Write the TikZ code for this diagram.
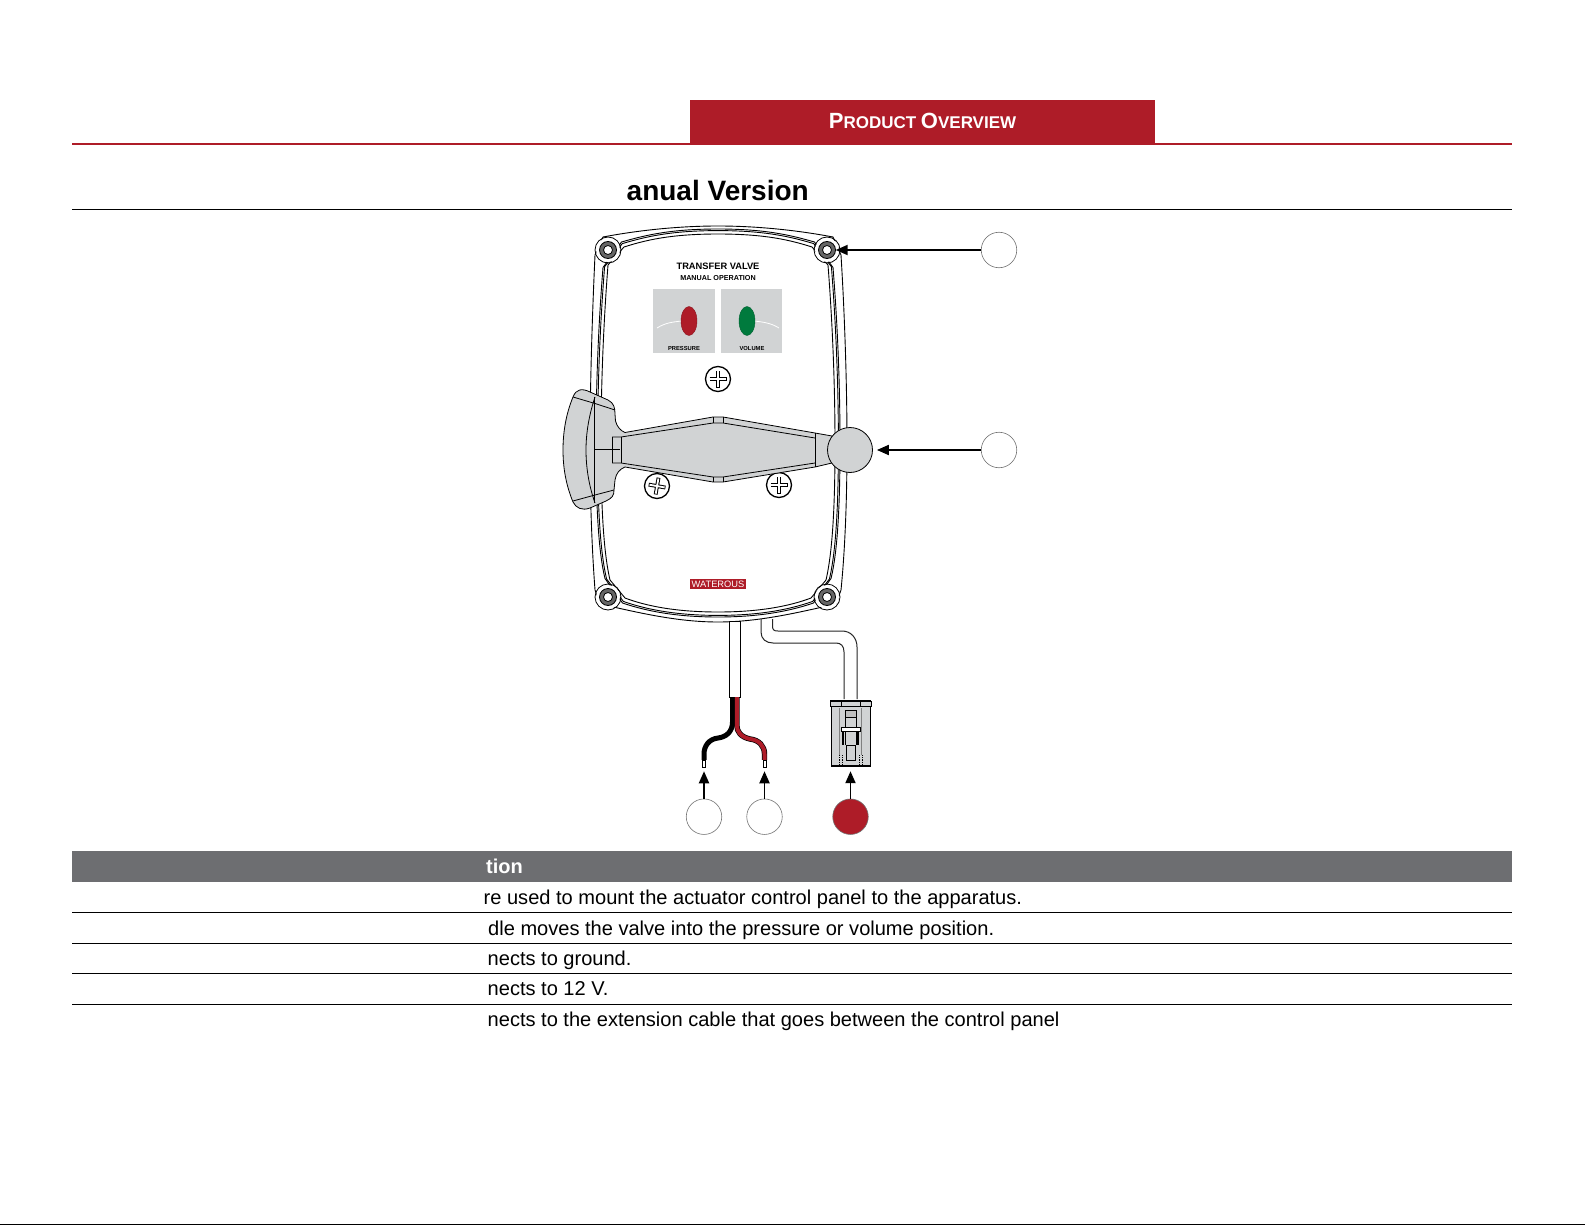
\documentclass[tikz,border=0pt]{standalone}
\usepackage{fontspec}
\setmainfont{Liberation Sans}
\usetikzlibrary{arrows.meta}
\definecolor{wred}{HTML}{AE1C28}
\definecolor{wgray}{HTML}{D1D3D4}
\definecolor{wdark}{HTML}{6D6E71}
\definecolor{wgreen}{HTML}{007A3D}
\newcommand{\fsz}[1]{\fontsize{#1}{#1}\selectfont}
\newcommand{\rimline}[1]{%
 \pgfmathsetmacro{\kk}{8-#1}%
 \draw[rimstyle] (718,226+#1)
  .. controls (765,226+#1) and (790,232+#1) .. ({812+\kk*.5},{247-\kk})
  -- ({828+\kk},{265+\kk*.5})
  .. controls ({833+\kk},330) and ({835+\kk},390) .. ({835+\kk},445)
  .. controls ({835+\kk},500) and ({833+\kk},550) .. ({826+\kk},{580-\kk*.3})
  -- ({811+\kk*.5},{598+\kk})
  .. controls (790,{606+\kk}) and (760,{612+\kk}) .. (718,{612+\kk})
  .. controls (676,{612+\kk}) and (646,{606+\kk}) .. ({625-\kk*.5},{598+\kk})
  -- ({610-\kk},{580-\kk*.3})
  .. controls ({603-\kk},550) and ({601-\kk},500) .. ({601-\kk},445)
  .. controls ({601-\kk},390) and ({603-\kk},330) .. ({608-\kk},{265+\kk*.5})
  -- ({624-\kk*.5},{247-\kk})
  .. controls (646,232+#1) and (671,226+#1) .. cycle;}
\tikzset{
 rimstyle/.style={draw=black,line width=.9pt},
 callout/.style={circle,draw=black!55,line width=.6pt,fill=white,minimum size=35.5pt,inner sep=0pt},
 pointer/.style={-{Triangle[length=12pt,width=10pt]},line width=1.9pt},
 rowrule/.style={line width=.8pt},
 rowtext/.style={anchor=base west,inner sep=0pt,font=\fsz{20.05}},
 bolt/.style={circle,draw=black,line width=.8pt,fill=white,minimum size=9pt,inner sep=0pt},
 screwhead/.style={circle,draw=black,line width=1.3pt,fill=white,minimum size=25pt,inner sep=0pt},
 handleline/.style={draw=black,line width=.8pt,line join=round},
 tiny label/.style={inner sep=0pt,font=\bfseries\fsz{5.8}},
}
\newcommand{\boltat}[2]{%
 \fill[white] (#2) circle (12pt);
 \draw[line width=.8pt] (#2) circle (13pt);
 \filldraw[fill=black!60,draw=black,line width=.8pt] (#2) circle (8.5pt);
 \node[bolt] (#1) at (#2) {};}
\newcommand{\screwat}[3]{%
 \node[screwhead] (#1) at (#2) {};
 \begin{scope}[rotate around={#3:(#2)}]
  \draw[line width=3.8pt,black] ([xshift=-8.5pt]#1.center) -- ([xshift=8.5pt]#1.center)
     ([yshift=-8.5pt]#1.center) -- ([yshift=8.5pt]#1.center);
  \draw[line width=1.8pt,white] ([xshift=-7.7pt]#1.center) -- ([xshift=7.7pt]#1.center)
     ([yshift=-7.7pt]#1.center) -- ([yshift=7.7pt]#1.center);
 \end{scope}}
\begin{document}
\begin{tikzpicture}[x=1pt,y=-1pt]
\useasboundingbox (0,0) rectangle (1585,1225);
\fill[white] (0,0) rectangle (1585,1225);
% header
\node[fill=wred,minimum width=465pt,minimum height=44pt,inner sep=0pt] (hdrbar) at (922.5,122) {};
\node[text=white,inner sep=0pt,font=\bfseries] (hdrtext) at (922.5,121) {\fsz{22}P\fsz{17}RODUCT \fsz{22}O\fsz{17}VERVIEW};
\coordinate (ruleL) at (72,144); \coordinate (ruleR) at (1512,144);
\draw[wred,line width=1.6pt] (ruleL)--(ruleR);
\node[anchor=base west,inner sep=0pt,font=\bfseries\fsz{28}] (title) at (626.5,200.5) {anual Version};
\coordinate (titleL) at (72,209.5); \coordinate (titleR) at (1512,209.5);
\draw[line width=.8pt] (titleL)--(titleR);
% panel
\draw[rimstyle,fill=white] (603,237)
  .. controls (640,230) and (680,226) .. (718,226)
  .. controls (756,226) and (796,230) .. (833,237)
  -- (841,255)
  .. controls (845,320) and (847,390) .. (847,445)
  .. controls (847,500) and (845,550) .. (841,590)
  -- (836,604)
  .. controls (800,612) and (760,622) .. (718,622)
  .. controls (676,622) and (636,612) .. (600,604)
  -- (595,590)
  .. controls (592,550) and (590,500) .. (590,445)
  .. controls (590,390) and (592,320) .. (595,255) -- cycle;
\rimline{3}\rimline{4.6}\rimline{8}
\boltat{boltA}{608,250}\boltat{boltB}{827,250}\boltat{boltC}{608,597}\boltat{boltD}{827,597}
% labels and gauges
\node[inner sep=0pt,font=\bfseries\fsz{9.3}] (ttl1) at (718,266.5) {TRANSFER VALVE};
\node[inner sep=0pt,font=\bfseries\fsz{7.2}] (ttl2) at (718,278) {MANUAL OPERATION};
\fill[wgray] (653,289) rectangle (715,353);
\fill[wgray] (721,289) rectangle (782,353);
\draw[white,line width=.8pt] (657,328) .. controls (665,323) and (672,322) .. (682,321);
\draw[white,line width=.8pt] (754,321) .. controls (763,322) and (771,323) .. (779,328);
\filldraw[fill=wred,draw=wred!80!black,line width=.4pt] (689,321) ellipse (8pt and 14.5pt);
\filldraw[fill=wgreen,draw=wgreen!80!black,line width=.4pt] (747,321) ellipse (8pt and 14.5pt);
\node[tiny label] (lblP) at (684,349) {PRESSURE};
\node[tiny label] (lblV) at (752,349) {VOLUME};
\screwat{screwA}{718,379}{0}
\screwat{screwB}{657,486}{-10}
\screwat{screwC}{779,485}{0}
\node[fill=wred,text=white,inner sep=0pt,minimum width=56pt,minimum height=9.5pt,font=\fsz{9.3}] (brand) at (718,584) {WATEROUS};
% handle
\filldraw[handleline,fill=wgray] (573,397)
  .. controls (576,389) and (582,388) .. (590,392)
  -- (608,400) .. controls (614,403) and (615,408) .. (615,414)
  -- (615.5,421) .. controls (617,427) and (621,431) .. (625,432.5)
  -- (713,417) -- (723,417) -- (815,433) -- (832,436) -- (832,463) -- (815,467)
  -- (723,482) -- (713,482) -- (625,467)
  .. controls (620,469) and (616,473) .. (615,480)
  -- (614,490) .. controls (614,496) and (612,498) .. (606,501)
  -- (590,508) .. controls (582,511) and (576,508) .. (573,502)
  .. controls (566,485) and (563,468) .. (563,450)
  .. controls (563,432) and (566,414) .. (573,397) -- cycle;
\draw[handleline] (573,397) -- (595,403.5) -- (615,410);
\draw[handleline] (573,501) -- (595,495) -- (614,490);
\draw[handleline] (595,397) .. controls (589,415) and (586,433) .. (586,450) .. controls (586,468) and (589,486) .. (595,503);
\draw[handleline] (594.5,397) -- (594.5,503);
\draw[handleline] (594.5,449.5) -- (620,449.5);
\draw[handleline] (612,437) -- (621,437) -- (713,423) -- (723,423) -- (815,438);
\draw[handleline] (612,463) -- (621,463) -- (713,477) -- (723,477) -- (815,463);
\draw[handleline] (612,437) -- (612,463) (621,437) -- (621,463);
\draw[handleline] (713,417) -- (713,423) (723,417) -- (723,423) (713,477) -- (713,482) (723,477) -- (723,482);
\draw[handleline] (815,433) -- (815,467);
\node[circle,draw=black,line width=.8pt,fill=wgray,minimum size=45pt,inner sep=0pt] (ball) at (850,450) {};
% cables
\draw[line width=1pt,fill=white] (729,621.5) rectangle (740,697);
\draw[line width=1pt,draw=black!85] (761,619) -- (761,632) .. controls (761,639) and (766,643) .. (773,643) -- (836,643) .. controls (841,643) and (844,646) .. (844,652) -- (844,699);
\draw[line width=1pt,draw=black!85] (772.5,619) -- (772.5,626) .. controls (772.5,630) and (774,631) .. (778,631) -- (842,631) .. controls (851,631) and (857,638) .. (857,647) -- (857,699);
\coordinate (wireA) at (732.5,697); \coordinate (wireB) at (736.8,697);
\node[draw=black,line width=.5pt,fill=white,minimum width=3.2pt,minimum height=7pt,inner sep=0pt] (tipA) at (704,763.5) {};
\node[draw=black,line width=.5pt,fill=white,minimum width=3.2pt,minimum height=7pt,inner sep=0pt] (tipB) at (764.5,763.5) {};
\draw[black,line width=5pt] (wireA) -- (732.5,722) .. controls (732.5,732) and (726,737) .. (718,738) .. controls (709,739) and (704,746) .. (704,754) -- (tipA.north);
\draw[black,line width=5.4pt] (wireB) -- (736.8,725) .. controls (736.8,732) and (741,737) .. (750,739) .. controls (759,740) and (764.5,746) .. (764.5,754) -- (tipB.north);
\draw[wred,line width=4pt] (wireB) -- (736.8,725) .. controls (736.8,732) and (741,737) .. (750,739) .. controls (759,740) and (764.5,746) .. (764.5,754) -- (tipB.north);
% connector
\filldraw[line width=.8pt,fill=wgray] (831,706) rectangle (870,766);
\draw[line width=2pt] (831,766) -- (870,766);
\filldraw[line width=.8pt,fill=wgray] (830,701) rectangle (871,706);
\draw[line width=2pt] (830,700.5) -- (871,700.5);
\draw[line width=.5pt] (841,701) -- (841,706) (860,701) -- (860,706);
\filldraw[line width=.6pt,fill=black!25] (845,710) rectangle (856,717);
\draw[line width=.7pt] (845,717) -- (845,727) (856,717) -- (856,727);
\filldraw[line width=.5pt,fill=white] (841,727) rectangle (860,731);
\draw[line width=1.4pt] (843,731) -- (843,745) (858,731) -- (858,745);
\draw[line width=.6pt] (845,731) -- (845,745) (856,731) -- (856,745);
\draw[line width=.8pt] (846,745) rectangle (855,760);
\draw[line width=.4pt,black!50] (839.5,708) -- (839.5,755) (861.5,708) -- (861.5,755);
\draw[line width=.5pt,dash pattern=on 1.2pt off 1pt] (839,755) -- (839,766) (842,755) -- (842,766) (859,755) -- (859,766) (862,755) -- (862,766);
\node[inner sep=0pt,minimum size=0pt] (conn) at (850.5,767) {};
% callouts
\node[callout] (c1) at (999,250) {};
\node[callout] (c2) at (999,450) {};
\node[callout] (c3) at (704,816.7) {};
\node[callout] (c4) at (764.5,816.7) {};
\node[callout,fill=wred] (c5) at (850.5,816.7) {};
\draw[pointer] (c1) -- ([xshift=3.8pt]boltB.east);
\draw[pointer] (c2) -- ([xshift=4pt]ball.east);
\draw[pointer] (c3) -- ([yshift=-4pt]tipA.south);
\draw[pointer] (c4) -- ([yshift=-4pt]tipB.south);
\draw[pointer] (c5) -- ([yshift=-4pt]conn.south);
% table
\node[fill=wdark,minimum width=1440pt,minimum height=31pt,inner sep=0pt] (thead) at (792,866.5) {};
\node[anchor=base west,inner sep=0pt,text=white,font=\bfseries\fsz{20}] (thtext) at (486,873.5) {tion};
\node[rowtext] (r1) at (483.5,904.5) {re used to mount the actuator control panel to the apparatus.};
\node[rowtext] (r2) at (488,935) {dle moves the valve into the pressure or volume position.};
\node[rowtext] (r3) at (487.5,965) {nects to ground.};
\node[rowtext] (r4) at (487.5,995.5) {nects to 12 V.};
\node[rowtext] (r5) at (487.5,1026) {nects to the extension cable that goes between the control panel};
\foreach \yy/\nm in {912.5/a,943.5/b,973.8/c,1004.3/d}{
 \coordinate (rl\nm) at (72,\yy); \coordinate (rr\nm) at (1512,\yy);
 \draw[rowrule] (rl\nm)--(rr\nm);}
\coordinate (botL) at (0,1224.5); \coordinate (botR) at (1585,1224.5);
\draw[line width=1.5pt] (botL)--(botR);
\end{tikzpicture}
\end{document}
